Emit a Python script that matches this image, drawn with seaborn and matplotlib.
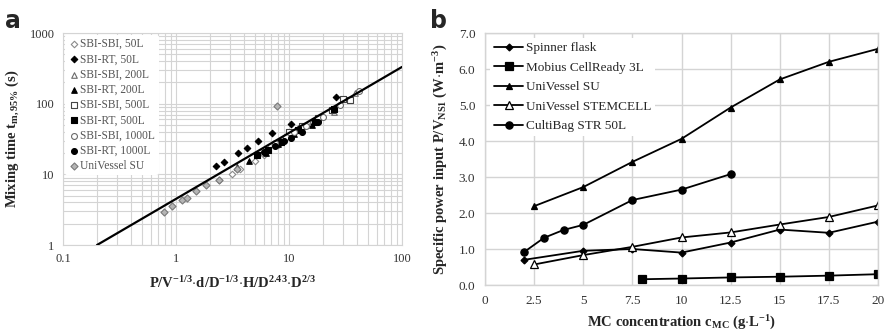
import numpy as np
import pandas as pd
import matplotlib
matplotlib.use("Agg")
import matplotlib.pyplot as plt
import matplotlib.ticker as mticker
import seaborn as sns

# ---- panel a: mixing time correlation ----
sbi50_open_x = [2.4, 3.15, 3.7, 5.0, 6.0, 8.0, 11.0]
sbi50_open_y = [8.4, 10.1, 11.8, 15.5, 18.5, 26.0, 38.0]
rt50_x = [2.24, 2.66, 3.55, 4.27, 5.33, 7.1, 10.5, 25.9]
rt50_y = [13.1, 15.1, 20.2, 23.9, 29.7, 38.3, 51.0, 124.0]
sbi200_open_x = [6.5, 8.5, 12.0, 16.0, 25.0, 38.0]
sbi200_open_y = [23.0, 30.0, 45.0, 56.0, 76.0, 140.0]
rt200_x = [3.5, 4.4, 6.2, 8.0, 11.0, 16.0]
rt200_y = [12.5, 15.2, 20.0, 27.0, 37.0, 50.0]
sbi500_open_x = [10.0, 13.0, 18.0, 24.0, 30.0, 35.0]
sbi500_open_y = [40.0, 48.0, 62.0, 82.0, 118.0, 112.0]
rt500_x = [5.2, 6.5, 8.5, 12.0, 17.0, 25.0]
rt500_y = [18.5, 22.0, 29.0, 42.0, 55.0, 85.0]
sbi1000_open_x = [7.5, 9.5, 11.0, 14.0, 20.0, 28.0, 42.0]
sbi1000_open_y = [28.0, 34.0, 40.0, 48.0, 64.0, 95.0, 150.0]
rt1000_x = [6.0, 7.5, 9.0, 10.5, 13.0, 18.0]
rt1000_y = [21.0, 25.0, 30.0, 33.0, 40.0, 55.0]
univ_su_x = [0.78, 0.93, 1.14, 1.26, 1.49, 1.83, 2.4, 3.5, 7.8]
univ_su_y = [2.94, 3.55, 4.3, 4.7, 5.8, 7.1, 8.2, 12.0, 93.0]
fit_x = [0.2, 100.0]
fit_y = [1.0, 331.0]

# ---- panel b: specific power input ----
spinner_x = [2, 5, 7.5, 10, 12.5, 15, 17.5, 20]
spinner_y = [0.70, 0.95, 1.00, 0.90, 1.18, 1.54, 1.45, 1.76]
mobius_x = [8, 10, 12.5, 15, 17.5, 20]
mobius_y = [0.16, 0.18, 0.21, 0.23, 0.26, 0.30]
univ_x = [2.5, 5, 7.5, 10, 12.5, 15, 17.5, 20]
univ_y = [2.19, 2.72, 3.42, 4.06, 4.93, 5.71, 6.20, 6.56]
stem_x = [2.5, 5, 7.5, 10, 12.5, 15, 17.5, 20]
stem_y = [0.57, 0.83, 1.06, 1.32, 1.46, 1.68, 1.89, 2.21]
culti_x = [2, 3, 4, 5, 7.5, 10, 12.5]
culti_y = [0.92, 1.31, 1.53, 1.67, 2.36, 2.65, 3.08]

sns.set_theme(style="white")
plt.rcParams["font.family"] = ["Liberation Serif", "DejaVu Serif"]
plt.rcParams["mathtext.fontset"] = "custom"
plt.rcParams["mathtext.rm"] = "Liberation Serif:bold"
plt.rcParams["mathtext.it"] = "Liberation Serif:bold"
plt.rcParams["mathtext.bf"] = "Liberation Serif:bold"
plt.rcParams["mathtext.default"] = "bf"

fig = plt.figure(figsize=(8.89, 3.32), dpi=100)
ax1 = fig.add_axes([63 / 889, 1 - 245 / 332, 339 / 889, 212 / 332])
ax2 = fig.add_axes([485 / 889, 1 - 285 / 332, 393 / 889, 252 / 332])

gridc = "#d4d4d4"

# panel a
series_a = [
    ("SBI-SBI, 50L", sbi50_open_x, sbi50_open_y, "D", "white", "#8a8a8a", 11),
    ("SBI-RT, 50L", rt50_x, rt50_y, "D", "black", "black", 11),
    ("SBI-SBI, 200L", sbi200_open_x, sbi200_open_y, "^", "white", "#6a6a6a", 16),
    ("SBI-RT, 200L", rt200_x, rt200_y, "^", "black", "black", 16),
    ("SBI-SBI, 500L", sbi500_open_x, sbi500_open_y, "s", "white", "#444444", 16),
    ("SBI-RT, 500L", rt500_x, rt500_y, "s", "black", "black", 16),
    ("SBI-SBI, 1000L", sbi1000_open_x, sbi1000_open_y, "o", "white", "#6a6a6a", 18),
    ("SBI-RT, 1000L", rt1000_x, rt1000_y, "o", "black", "black", 18),
    ("UniVessel SU", univ_su_x, univ_su_y, "D", "#b5b5b5", "#7a7a7a", 13),
]
for label, xs, ys, mk, fc, ec, sz in series_a:
    sns.scatterplot(x=xs, y=ys, marker=mk, s=sz, color=fc, edgecolor=ec,
                    linewidth=0.8, label=label, ax=ax1, zorder=3)
sns.lineplot(x=fit_x, y=fit_y, color="black", lw=1.6, ax=ax1, zorder=4)

ax1.set_xscale("log")
ax1.set_yscale("log")
ax1.set_xlim(0.1, 100)
ax1.set_ylim(1, 1000)
ax1.xaxis.set_major_locator(mticker.FixedLocator([0.1, 1, 10, 100]))
ax1.yaxis.set_major_locator(mticker.FixedLocator([1, 10, 100, 1000]))
ax1.xaxis.set_minor_locator(mticker.LogLocator(base=10, subs=range(2, 10), numticks=20))
ax1.yaxis.set_minor_locator(mticker.LogLocator(base=10, subs=range(2, 10), numticks=20))
ax1.xaxis.set_major_formatter(mticker.FuncFormatter(lambda v, p: "%g" % v))
ax1.yaxis.set_major_formatter(mticker.FuncFormatter(lambda v, p: "%g" % v))
ax1.xaxis.set_minor_formatter(mticker.NullFormatter())
ax1.yaxis.set_minor_formatter(mticker.NullFormatter())
ax1.grid(True, which="both", color=gridc, lw=0.8)
ax1.tick_params(which="both", length=0, labelsize=9, labelcolor="#333333", pad=6)
for sp in ax1.spines.values():
    sp.set_color(gridc)
    sp.set_linewidth(0.8)
ax1.set_xlabel(r"P/V$^{-1/3}$$\cdot$d/D$^{-1/3}$$\cdot$H/D$^{2.43}$$\cdot$D$^{2/3}$",
               fontsize=10.5, fontweight="bold", labelpad=7)
ax1.set_ylabel(r"Mixing time t$_{m,95\%}$ (s)", fontsize=10.5, fontweight="bold", labelpad=6)
leg1 = ax1.legend(loc="upper left", fontsize=8.3, frameon=True, facecolor="white",
                  edgecolor="none", framealpha=1, handletextpad=0.05, labelspacing=0.28,
                  borderaxespad=0.15, borderpad=0.3, handlelength=1.0)
for t in leg1.get_texts():
    t.set_color("#555555")

# panel b
series_b = [
    ("Spinner flask", spinner_x, spinner_y, "D", "black", 3.5),
    ("Mobius CellReady 3L", mobius_x, mobius_y, "s", "black", 5.2),
    ("UniVessel SU", univ_x, univ_y, "^", "black", 4),
    ("UniVessel STEMCELL", stem_x, stem_y, "^", "white", 5.5),
    ("CultiBag STR 50L", culti_x, culti_y, "o", "black", 5.2),
]
for label, xs, ys, mk, fc, ms in series_b:
    sns.lineplot(x=xs, y=ys, marker=mk, markersize=ms, markerfacecolor=fc,
                 markeredgecolor="black", markeredgewidth=0.9, color="black",
                 lw=1.3, label=label, ax=ax2)

ax2.set_xlim(0, 20)
ax2.set_ylim(0, 7)
ax2.set_xticks([0, 2.5, 5, 7.5, 10, 12.5, 15, 17.5, 20])
ax2.set_xticklabels(["0", "2.5", "5", "7.5", "10", "12.5", "15", "17.5", "20"])
ax2.set_yticks(np.arange(0, 7.5, 1.0))
ax2.yaxis.set_major_formatter(mticker.FormatStrFormatter("%.1f"))
ax2.grid(True, color=gridc, lw=1.0)
ax2.tick_params(length=4, color=gridc, labelsize=9.5, labelcolor="#333333", pad=3)
for sp in ax2.spines.values():
    sp.set_color(gridc)
    sp.set_linewidth(1.0)
ax2.set_xlabel(r"MC concentration c$_{MC}$ (g$\cdot$L$^{-1}$)", fontsize=10.5,
               fontweight="bold", labelpad=5)
ax2.set_ylabel(r"Specific power input P/V$_{NS1}$ (W$\cdot$m$^{-3}$)", fontsize=10.5,
               fontweight="bold", labelpad=6)
ax2.legend(loc="upper left", fontsize=9.5, frameon=True, facecolor="white",
           edgecolor="none", framealpha=1, handletextpad=0.2, labelspacing=0.55,
           handlelength=2.2, borderaxespad=0.4, borderpad=0.3)

fig.text(5 / 889, 1 - 28 / 332, "a", fontsize=17, fontweight="bold",
         family="DejaVu Sans")
fig.text(430 / 889, 1 - 28 / 332, "b", fontsize=17, fontweight="bold",
         family="DejaVu Sans")

fig.savefig("out.png", dpi=100)
